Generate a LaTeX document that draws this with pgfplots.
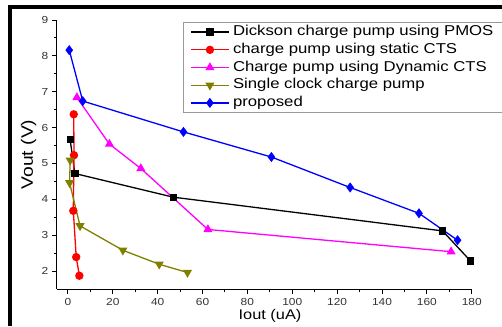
\documentclass[border=0pt]{standalone}
\usepackage{fontspec}
\setmainfont{Liberation Sans}[FakeStretch=1.17]
\usepackage{pgfplots}
\pgfplotsset{compat=1.18}
\definecolor{olivec}{RGB}{128,128,0}
\definecolor{magc}{RGB}{255,0,255}
\begin{document}
\begin{tikzpicture}[x=1pt,y=1pt]
\path[use as bounding box] (0,0) rectangle (502,326);
\fill[black] (8,0) rectangle (12,321);
\fill[black] (8,317) rectangle (502,321);
\begin{axis}[
  at={(56.7pt,37pt)}, anchor=south west,
  scale only axis, width=415pt, height=269pt,
  xmin=-5, xmax=180, ymin=1.5, ymax=9,
  axis x line*=bottom, axis y line*=left,
  axis line style={line width=0.9pt, -},
  xtick={0,20,...,180}, ytick={2,3,...,9},
  minor x tick num=1, minor y tick num=1,
  tick align=outside, major tick length=5pt, minor tick length=3pt,
  tick style={black, line width=0.9pt},
  /pgf/number format/assume math mode=true,
  tick label style={font=\fontsize{10.2}{12}\selectfont, text=black!80},
  xticklabel style={yshift=-1pt},
  xlabel={Iout (uA)}, ylabel={Vout (V)},
  x label style={at={(axis description cs:0.514,-0.1)}, anchor=center, font=\fontsize{14}{16}\selectfont},
  y label style={at={(axis description cs:-0.068,0.5)}, anchor=center, font=\fontsize{16.5}{18}\selectfont},
  legend cell align=left,
  legend style={at={(rel axis cs:0.304,0.993)}, anchor=north west,
    draw=black!40, line width=0.8pt, fill=white,
    inner xsep=7pt, inner ysep=1pt, row sep=0pt,
    font=\fontsize{14.3}{16}\selectfont,
    nodes={inner xsep=3.5pt, inner ysep=2.2pt, text height=10.3pt, text depth=3pt}},
  legend image code/.code={\draw[mark repeat=2, mark phase=2, #1] plot coordinates {(0pt,0pt) (19pt,0pt) (38pt,0pt)};},
  every axis plot/.append style={line width=1.3pt},
]
\addplot[black, mark=square*, mark size=3pt] coordinates {
  (1,5.66) (3.1,4.72) (47,4.06) (167,3.12) (179.5,2.28)};
\addlegendentry{Dickson charge pump using PMOS}
\addplot[red, mark=*, mark size=3.5pt] coordinates {
  (2.6,6.37) (2.7,5.23) (2.4,3.68) (3.7,2.39) (5.1,1.87)};
\addlegendentry{charge pump using static CTS}
\addplot[magc, mark=triangle*, mark size=4pt] coordinates {
  (4,6.84) (18.5,5.54) (32.5,4.86) (62.4,3.16) (170.8,2.54)};
\addlegendentry{Charge pump using Dynamic CTS}
\addplot[olivec, mark=triangle*, mark options={rotate=180}, mark size=4pt] coordinates {
  (1,5.09) (0.75,4.46) (5.4,3.26) (24.5,2.58) (40.7,2.19) (53.3,1.96)};
\addlegendentry{Single clock charge pump}
\addplot[blue, mark=diamond*, mark size=4pt] coordinates {
  (0.6,8.16) (6.6,6.74) (51.5,5.88) (90.7,5.18) (125.8,4.33) (156.5,3.61) (173.7,2.86)};
\addlegendentry{proposed}
\end{axis}
\end{tikzpicture}
\end{document}
